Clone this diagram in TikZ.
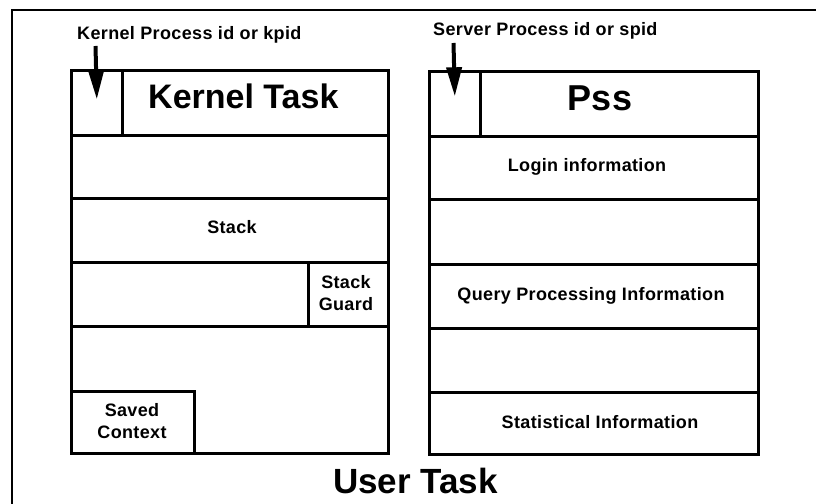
\documentclass[tikz,border=0pt]{standalone}
\usepackage{fontspec}
\setmainfont{Liberation Sans}
\newfontfamily\labfont{Liberation Sans}[LetterSpace=2]
\usetikzlibrary{arrows.meta}
\tikzset{
  cell/.style={draw, line width=2.6pt, rectangle, inner sep=0pt, anchor=north west},
  lab/.style={font=\labfont\bfseries\fontsize{18}{22}\selectfont, inner sep=0pt, anchor=base, align=center},
  big/.style={font=\bfseries\fontsize{34}{38}\selectfont, inner sep=0pt, anchor=base},
  bigarrow/.style={line width=4pt, -{Triangle[length=29pt,width=15pt]}},
  frame/.style={line width=2.8pt}
}
\begin{document}
\begin{tikzpicture}[x=1pt,y=-1pt]
\useasboundingbox (0,0) rectangle (816,503);
% outer frame (top and left edges)
\coordinate (fbl) at (12,510);
\coordinate (ftl) at (12,10);
\coordinate (ftr) at (820,10);
\draw[frame] (fbl) -- (ftl) -- (ftr);

% ---- Kernel task block ----
\node[cell, minimum width=317pt, minimum height=65pt] (ktrow) at (70,69) {};
\node[cell, minimum width=51pt, minimum height=65pt] (kpid) at (70,69) {};
\node[cell, minimum width=317pt, minimum height=63pt] (krow2) at (70,134) {};
\node[cell, minimum width=317pt, minimum height=64pt] (stackrow) at (70,197) {};
\node[cell, minimum width=317pt, minimum height=64pt] (krow4) at (70,261) {};
\node[cell, minimum width=80pt, minimum height=64pt] (guard) at (307,261) {};
\node[cell, minimum width=317pt, minimum height=127pt] (krow5) at (70,325) {};
\node[cell, minimum width=123pt, minimum height=62pt] (saved) at (70,390) {};

% ---- Pss block ----
\node[cell, minimum width=329pt, minimum height=65pt] (pssrow) at (428,70) {};
\node[cell, minimum width=51pt, minimum height=65pt] (spid) at (428,70) {};
\node[cell, minimum width=329pt, minimum height=63pt] (login) at (428,135) {};
\node[cell, minimum width=329pt, minimum height=65pt] (rrow3) at (428,198) {};
\node[cell, minimum width=329pt, minimum height=64pt] (query) at (428,263) {};
\node[cell, minimum width=329pt, minimum height=64pt] (rrow5) at (428,327) {};
\node[cell, minimum width=329pt, minimum height=62pt] (stat) at (428,391) {};

% ---- labels ----
\node[lab, anchor=base west] (kpidlab) at (77,40) {Kernel Process id or kpid};
\node[lab, anchor=base west] (spidlab) at (433,36) {Server Process id or spid};
\node[big, anchor=base west] (kttext) at (148,108) {Kernel Task};
\node[big, font=\bfseries\fontsize{36}{40}\selectfont] (psstext) at (600,110) {Pss};
\node[lab] (logintext) at (587,171) {Login information};
\node[lab] (stacktext) at (232,233) {Stack};
\node[lab] (guardtext) at (346,310) {Stack\\Guard};
\node[lab] (querytext) at (591,300) {Query Processing Information};
\node[lab] (stattext) at (600,428) {Statistical Information};
\node[lab] (savedtext) at (132,438) {Saved\\Context};
\node[big, font=\bfseries\fontsize{35}{40}\selectfont, anchor=base west] (usertask) at (333,493) {User Task};

% ---- arrows ----
\coordinate (ka) at (95.5,46);
\coordinate (sa) at (453.5,43);
\draw[bigarrow] (ka) -- ([yshift=3.5pt]kpid.center);
\draw[bigarrow] (sa) -- ([yshift=7.5pt]spid.center);
\end{tikzpicture}
\end{document}
